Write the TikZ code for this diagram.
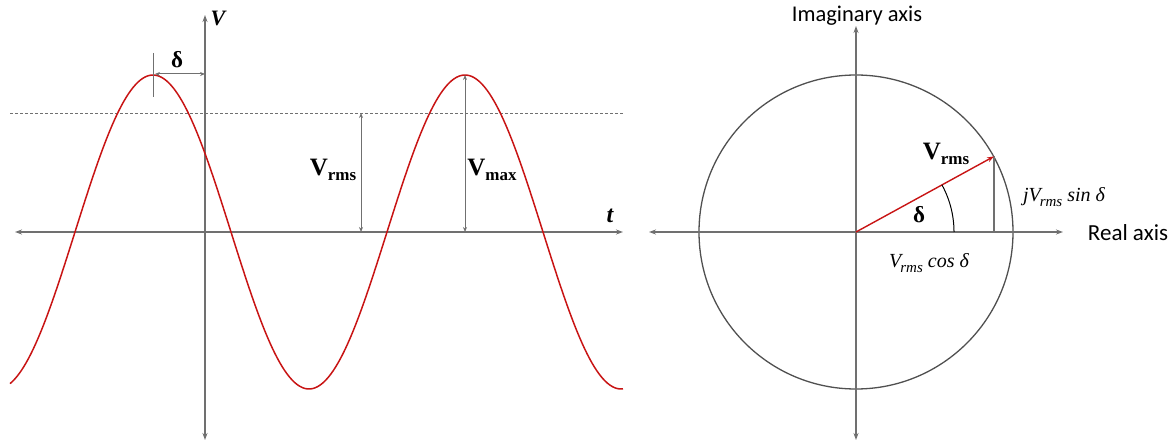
\documentclass[tikz,border=0pt]{standalone}
\usepackage{amsmath}
\usepackage{fontspec}
\newfontfamily\lser{Liberation Serif}
\newfontfamily\calib{Carlito}
\usetikzlibrary{arrows.meta}
\definecolor{axgray}{RGB}{112,112,112}
\definecolor{dkgray}{RGB}{80,80,80}
\definecolor{wavered}{RGB}{200,20,20}
\newcommand{\bsub}[2]{{\lser\bfseries\fontsize{25}{28}\selectfont #1\raisebox{-0.22em}{\fontsize{17}{20}\selectfont #2}}}
\newcommand{\isub}[2]{#1\kern-0.05em\raisebox{-0.25em}{\fontsize{15}{16}\selectfont #2}}
\begin{document}
\begin{tikzpicture}[x=1pt,y=-1pt,
  axisline/.style={draw=axgray, line width=1.4pt, {Stealth[length=7pt,width=5pt]}-{Stealth[length=7pt,width=5pt]}},
  dimline/.style={draw=axgray, line width=1pt, {Stealth[length=5pt,width=4pt]}-{Stealth[length=5pt,width=4pt]}},
  thinline/.style={draw=axgray, line width=1pt},
  lbl/.style={inner sep=0pt, anchor=center},
  mlbl/.style={inner sep=0pt, anchor=center, font=\lser\itshape\fontsize{20}{22}\selectfont}]
\useasboundingbox (0,0) rectangle (1175,446);
% ---------- left: waveform ----------
\coordinate (vtop) at (205,15);
\coordinate (vbot) at (205,440);
\coordinate (tl) at (15,232);
\coordinate (tr) at (623,232);
\draw[axisline] (vbot) -- (vtop);
\draw[axisline] (tl) -- (tr);
\coordinate (dl) at (10,113);
\coordinate (dr) at (623,113);
\draw[axgray, line width=0.7pt, dash pattern=on 3pt off 2pt] (dl) -- (dr);
\draw[wavered, line width=1.5pt] plot[domain=10:623, samples=240, smooth] (\x, {232-157*cos(1.153846*(\x-153))});
% delta
\coordinate (tickT) at (153,53);
\coordinate (tickB) at (153,97);
\draw[thinline] (tickT) -- (tickB);
\coordinate (pk) at (155,74);
\coordinate (pkaxis) at (205,74);
\draw[dimline] (pk) -- (pkaxis);
% Vrms / Vmax arrows
\coordinate (rmsT) at (361,113);
\coordinate (rmsB) at (361,232);
\draw[dimline] (rmsT) -- (rmsB);
\coordinate (maxT) at (465,75);
\coordinate (maxB) at (465,232);
\draw[dimline] (maxT) -- (maxB);
% labels
\node[lbl] (dlt) at (177,60) {\lser\bfseries\fontsize{23}{24}\selectfont δ};
\node[lbl] (vlab) at (218,18) {\lser\bfseries\itshape\fontsize{22}{24}\selectfont V};
\node[lbl] (tlab) at (610,216) {\lser\bfseries\itshape\fontsize{24}{24}\selectfont t};
\node[lbl] (vrmsL) at (333,170) {\bsub{V}{rms}};
\node[lbl] (vmaxL) at (492,170) {\bsub{V}{max}};
% ---------- right: phasor ----------
\coordinate (O) at (856,232);
\coordinate (rl) at (649,232);
\coordinate (rr) at (1063,232);
\coordinate (it) at (856,26);
\coordinate (ib) at (856,440);
\draw[dkgray, line width=1.3pt] (O) circle[radius=157pt];
\draw[axisline] (rl) -- (rr);
\draw[axisline] (ib) -- (it);
\coordinate (P) at (994,156.4);
\coordinate (Px) at (994,232);
\draw[thinline, line width=1.3pt] (P) -- (Px);
\draw[wavered, line width=1.4pt, -{Stealth[length=7pt,width=5pt]}] (O) -- (P);
\draw[black, line width=1pt] plot[domain=0:28.8, samples=40, smooth] ({856+98*cos(\x)}, {232-98*sin(\x)});
\node[lbl] (dlt2) at (919,215) {\lser\bfseries\fontsize{23}{24}\selectfont δ};
\node[lbl] (vrmsR) at (946,154) {\bsub{V}{rms}};
\node[mlbl] (sinL) at (1064,197) {j\isub{V}{rms} sin δ};
\node[mlbl] (cosL) at (929,263) {\isub{V}{rms} cos δ};
\node[lbl, font=\calib\fontsize{23}{26}\selectfont] (realL) at (1128,233) {Real axis};
\node[lbl, font=\calib\fontsize{22.5}{26}\selectfont] (imagL) at (857,16) {Imaginary axis};
\end{tikzpicture}
\end{document}
